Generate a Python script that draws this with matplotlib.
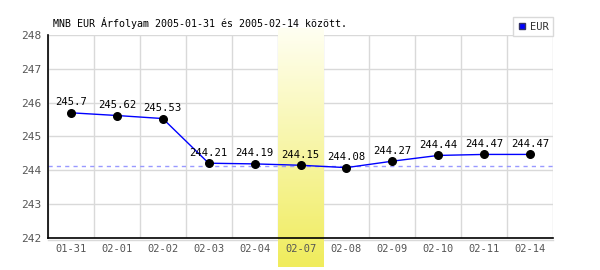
import numpy as np
import matplotlib
matplotlib.use("Agg")
import matplotlib.pyplot as plt
from matplotlib.colors import LinearSegmentedColormap

# ── Data ─────────────────────────────────────────────────────────────────────
dates = ["01-31", "02-01", "02-02", "02-03", "02-04", "02-07",
         "02-08", "02-09", "02-10", "02-11", "02-14"]
eur = [245.7, 245.62, 245.53, 244.21, 244.19, 244.15,
       244.08, 244.27, 244.44, 244.47, 244.47]
ref_level = 244.14
highlight = "02-07"
y_ticks = [242, 243, 244, 245, 246, 247, 248]
title = "MNB EUR Árfolyam 2005-01-31 és 2005-02-14 között."

plt.rcParams["font.family"] = ["DejaVu Sans Mono"]
GRID = "#d9d9d9"

fig = plt.figure(figsize=(6, 2.7), dpi=100)
ax = fig.add_axes([0.08, 0.1185, 0.8417, 0.752])

x = np.arange(len(dates))

# grid (drawn by hand so the band can sit above it and below tick labels)
for b in np.arange(len(dates) + 1) - 0.5:
    ax.axvline(b, color=GRID, lw=1, zorder=0.5)
for yt in y_ticks:
    ax.axhline(yt, color=GRID, lw=1, zorder=0.5)

# grey shadow line under x axis
ax.plot([0, 1], [-0.012, -0.012], transform=ax.transAxes, color=GRID,
        lw=1, clip_on=False, zorder=0.8)

# highlighted day band with vertical gradient
hi = dates.index(highlight)
cmap = LinearSegmentedColormap.from_list("band", ["#fffff2", "#f0ec5c"])
grad = np.linspace(0, 1, 256).reshape(-1, 1)
ax.imshow(grad, cmap=cmap, aspect="auto", origin="upper",
          extent=(hi - 0.5, hi + 0.5, 241.15, 248.2),
          clip_on=False, zorder=1)
ax.set_xlim(-0.5, len(dates) - 0.5)
ax.set_ylim(y_ticks[0], y_ticks[-1])

# reference dashed line
ax.axhline(ref_level, color="#9999ff", lw=1, ls=(0, (3, 3)), zorder=2)

# series
ax.plot(x, eur, color="#0000ff", lw=1, zorder=3)
ax.scatter(x, eur, s=30, color="black", zorder=4)
for xi, v in zip(x, eur):
    ax.annotate(f"{v:g}", (xi, v), xytext=(0, 4), textcoords="offset points",
                ha="center", va="bottom", fontsize=7.6, color="black", zorder=5)

# spines & ticks
for side in ["top", "right"]:
    ax.spines[side].set_visible(False)
for side in ["left", "bottom"]:
    ax.spines[side].set_color("black")
    ax.spines[side].set_linewidth(1.2)
    ax.spines[side].set_zorder(6)
ax.set_xticks(x)
ax.set_xticklabels(dates)
ax.set_yticks(y_ticks)
ax.xaxis.set_zorder(7)
ax.yaxis.set_zorder(7)
ax.tick_params(which="both", length=0, colors="#555555")
ax.tick_params(axis="x", labelsize=7.5, pad=4)
ax.tick_params(axis="y", labelsize=8, pad=5)

fig.text(53 / 600, 1 - 23 / 270, title, fontsize=7.2, color="black",
         ha="left", va="center")

ax.legend(handles=[plt.Line2D([], [], marker="s", ls="none", markersize=5,
                              markerfacecolor="#0000ff", markeredgecolor="#333366")],
          labels=["EUR"], loc="upper right", bbox_to_anchor=(1.0, 1.089),
          bbox_transform=ax.transAxes, fontsize=7.5, frameon=True, fancybox=False,
          edgecolor=GRID, framealpha=1, handlelength=0.8, handletextpad=0.3,
          borderpad=0.45, borderaxespad=0, labelcolor="#333333")

fig.savefig("out.png", dpi=100)
